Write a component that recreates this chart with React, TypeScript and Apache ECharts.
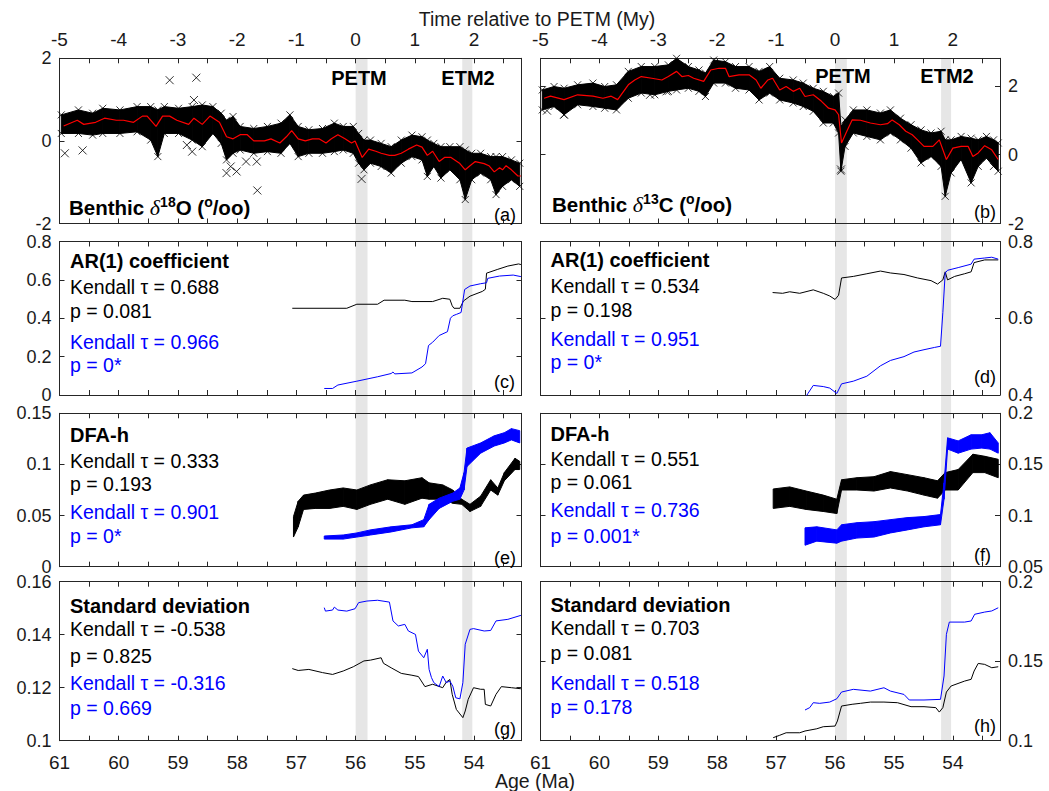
import React, { useEffect, useRef } from 'react';
import * as echarts from 'echarts';

const FONT = '"Liberation Sans", Arial, Helvetica, sans-serif';
const INK = '#1a1a1a';
const BLUE = '#0000ff';
const RED = '#ff0000';
const BAND = '#e6e6e6';

// ---------- tick labels ----------
const topTickLabels = ['-5', '-4', '-3', '-2', '-1', '0', '1', '2'];
const bottomTickLabels = ['61', '60', '59', '58', '57', '56', '55', '54'];
const aYTicks = ['-2', '0', '2'];
const bYTicks = ['-2', '0', '2'];
const cYTicks = ['0', '0.2', '0.4', '0.6', '0.8'];
const dYTicks = ['0.4', '0.6', '0.8'];
const eYTicks = ['0', '0.05', '0.1', '0.15'];
const fYTicks = ['0.05', '0.1', '0.15', '0.2'];
const gYTicks = ['0.1', '0.12', '0.14', '0.16'];
const hYTicks = ['0.1', '0.15', '0.2'];

// ---------- events (Ma) ----------
const PETM_AGE = 56;
const eventBands = [
  [56.0, 55.8],
  [54.2, 54.03],
];

// ---------- (a) benthic d18O ----------
const aEnvAge = [60.97, 60.68, 60.44, 60.27, 59.98, 59.69, 59.46, 59.34, 59.23, 58.99, 58.76, 58.59, 58.41, 58.27, 58.18, 58.07, 57.95, 57.72, 57.49, 57.26, 57.11, 56.97, 56.79, 56.56, 56.36, 56.21, 56.04, 55.95, 55.86, 55.75, 55.57, 55.40, 55.23, 55.05, 54.88, 54.79, 54.68, 54.56, 54.41, 54.24, 54.15, 54.04, 53.89, 53.72, 53.63, 53.52, 53.37, 53.23];
const aUpper = [0.63, 0.75, 0.67, 0.79, 0.75, 0.83, 0.83, 0.75, 0.83, 0.79, 0.83, 0.87, 0.83, 0.67, 0.5, 0.59, 0.35, 0.3, 0.35, 0.43, 0.63, 0.35, 0.27, 0.3, 0.43, 0.35, 0.35, 0.18, 0.02, 0.02, -0.06, -0.14, 0.02, 0.14, 0.1, 0.02, -0.06, -0.14, -0.14, -0.14, -0.22, -0.3, -0.3, -0.38, -0.38, -0.38, -0.46, -0.54];
const aLower = [0.18, 0.18, 0.14, 0.18, 0.18, 0.22, 0.02, -0.38, 0.18, 0.18, 0.02, -0.14, 0.18, -0.06, -0.46, -0.3, -0.22, -0.3, -0.26, -0.3, -0.06, -0.38, -0.3, -0.3, -0.26, -0.22, -0.3, -0.54, -0.7, -0.54, -0.62, -0.78, -0.54, -0.38, -0.46, -0.86, -0.62, -0.9, -0.7, -0.94, -1.42, -0.94, -0.78, -0.94, -1.3, -1.1, -0.94, -1.1];
const aMeanAge = [60.93, 60.70, 60.59, 60.39, 60.24, 60.04, 59.92, 59.75, 59.60, 59.52, 59.37, 59.26, 59.14, 59.02, 58.82, 58.73, 58.59, 58.46, 58.30, 58.18, 58.07, 57.95, 57.83, 57.72, 57.54, 57.43, 57.28, 57.17, 57.08, 56.97, 56.85, 56.73, 56.62, 56.50, 56.41, 56.30, 56.18, 56.07, 56.01, 55.89, 55.78, 55.66, 55.57, 55.43, 55.34, 55.23, 55.11, 54.97, 54.88, 54.79, 54.70, 54.59, 54.50, 54.39, 54.24, 54.15, 54.07, 53.98, 53.83, 53.75, 53.66, 53.57, 53.52, 53.46, 53.37, 53.26, 53.21];
const aMean = [0.36, 0.5, 0.4, 0.45, 0.55, 0.5, 0.5, 0.45, 0.6, 0.6, 0.35, 0.6, 0.6, 0.5, 0.4, 0.55, 0.4, 0.6, 0.45, 0.1, 0.05, 0.15, 0.15, 0.0, 0.0, 0.05, -0.05, 0.1, 0.25, 0.05, 0.0, 0.05, 0.05, -0.05, 0.05, 0.15, 0.05, -0.05, 0.0, -0.4, -0.2, -0.25, -0.3, -0.35, -0.35, -0.3, -0.2, -0.1, -0.15, -0.35, -0.25, -0.5, -0.4, -0.4, -0.55, -0.7, -0.6, -0.5, -0.55, -0.6, -0.75, -0.65, -0.7, -0.6, -0.7, -0.85, -0.85];
const aOutAge = [60.91, 60.61, 59.14, 58.69, 58.73, 58.85, 58.76, 58.18, 58.11, 58.01, 57.85, 57.67, 57.66, 55.90];
const aOutVal = [-0.30, -0.23, 1.47, 1.53, 0.99, -0.10, -0.26, -0.78, -0.62, -0.74, -0.50, -0.50, -1.20, -0.92];

// ---------- (b) benthic d13C ----------
const bEnvAge = [60.97, 60.77, 60.60, 60.37, 60.11, 59.91, 59.71, 59.51, 59.29, 59.06, 58.83, 58.69, 58.49, 58.31, 58.20, 58.06, 57.86, 57.69, 57.46, 57.29, 57.11, 56.94, 56.71, 56.54, 56.37, 56.20, 56.03, 55.94, 55.90, 55.83, 55.69, 55.46, 55.23, 55.06, 54.89, 54.71, 54.54, 54.37, 54.20, 54.13, 54.03, 53.86, 53.69, 53.57, 53.43, 53.31, 53.23];
const bUpper = [1.88, 1.98, 1.93, 2.03, 2.08, 1.98, 2.03, 2.42, 2.56, 2.56, 2.61, 2.8, 2.56, 2.46, 2.37, 2.75, 2.7, 2.56, 2.56, 2.42, 2.56, 2.22, 2.17, 2.08, 1.93, 1.84, 1.69, 1.79, 0.82, 1.01, 1.3, 1.3, 1.21, 1.3, 1.06, 0.87, 0.72, 0.63, 0.68, 0.43, 0.43, 0.53, 0.48, 0.43, 0.53, 0.43, 0.34];
const bLower = [1.3, 1.4, 1.16, 1.45, 1.4, 1.35, 1.3, 1.64, 1.79, 1.74, 1.84, 1.88, 1.93, 1.84, 1.69, 2.08, 2.08, 1.93, 1.88, 1.59, 1.79, 1.59, 1.5, 1.4, 1.26, 0.92, 0.92, 0.63, -0.48, 0.24, 0.63, 0.53, 0.43, 0.63, 0.43, 0.19, -0.24, -0.05, -0.34, -1.21, -0.53, -0.14, -0.82, -0.34, -0.1, -0.34, -0.48];
const bMeanAge = [60.94, 60.83, 60.60, 60.37, 60.11, 59.94, 59.80, 59.69, 59.51, 59.40, 59.29, 59.11, 58.94, 58.83, 58.69, 58.60, 58.49, 58.40, 58.23, 58.11, 57.97, 57.86, 57.80, 57.63, 57.46, 57.34, 57.26, 57.14, 57.06, 56.94, 56.83, 56.71, 56.60, 56.51, 56.37, 56.23, 56.11, 56.00, 55.94, 55.89, 55.80, 55.71, 55.57, 55.40, 55.23, 55.11, 55.03, 54.91, 54.80, 54.69, 54.60, 54.49, 54.34, 54.23, 54.11, 54.00, 53.86, 53.74, 53.66, 53.57, 53.46, 53.34, 53.23];
const bMean = [1.64, 1.7, 1.6, 1.74, 1.7, 1.64, 1.7, 1.6, 2.03, 2.17, 2.27, 2.22, 2.17, 2.27, 2.42, 2.27, 2.3, 2.22, 2.13, 2.46, 2.51, 2.51, 2.27, 2.32, 2.32, 2.17, 1.93, 2.17, 2.22, 1.88, 1.98, 1.84, 1.93, 1.69, 1.74, 1.55, 1.35, 1.3, 1.16, 0.34, 0.68, 1.01, 1.0, 0.92, 0.87, 0.9, 1.01, 0.87, 0.68, 0.58, 0.43, 0.24, 0.24, 0.43, -0.14, 0.19, 0.24, 0.24, -0.05, 0.05, 0.26, 0.14, -0.14];
const bOutAge = [60.89, 60.60, 59.14, 58.86, 55.90];
const bOutVal = [1.28, 1.16, 1.74, 1.84, -0.43];

// ---------- (c) AR(1) d18O ----------
const cBlackAge = [57.07, 56.15, 55.98, 55.63, 55.52, 55.17, 55.05, 54.70, 54.53, 54.41, 54.37, 54.34, 54.24, 54.18, 54.07, 53.86, 53.81, 53.79, 53.60, 53.43, 53.25, 53.21];
const cBlack = [0.452, 0.452, 0.473, 0.473, 0.494, 0.494, 0.487, 0.487, 0.504, 0.499, 0.465, 0.452, 0.452, 0.49, 0.515, 0.54, 0.551, 0.635, 0.655, 0.672, 0.683, 0.68];
const cBlueAge = [56.53, 56.39, 56.30, 55.98, 55.63, 55.40, 55.37, 55.34, 55.05, 54.88, 54.82, 54.77, 54.70, 54.59, 54.45, 54.40, 54.36, 54.30, 54.22, 54.16, 54.07, 53.89, 53.79, 53.77, 53.57, 53.34, 53.21];
const cBlue = [0.034, 0.034, 0.052, 0.072, 0.095, 0.112, 0.12, 0.11, 0.115, 0.146, 0.163, 0.258, 0.275, 0.31, 0.33, 0.40, 0.413, 0.42, 0.43, 0.55, 0.568, 0.58, 0.585, 0.608, 0.62, 0.625, 0.617];

// ---------- (d) AR(1) d13C ----------
const dBlackAge = [57.06, 56.89, 56.77, 56.60, 56.37, 56.20, 56.09, 56.00, 55.94, 55.89, 55.69, 55.46, 55.23, 55.06, 54.83, 54.60, 54.37, 54.26, 54.17, 54.13, 54.09, 53.97, 53.80, 53.69, 53.64, 53.46, 53.23];
const dBlack = [0.667, 0.665, 0.669, 0.665, 0.674, 0.665, 0.658, 0.649, 0.66, 0.705, 0.709, 0.716, 0.723, 0.718, 0.714, 0.705, 0.698, 0.689, 0.70, 0.721, 0.70, 0.709, 0.716, 0.721, 0.745, 0.752, 0.752];
const dBlueAge = [56.51, 56.46, 56.37, 56.20, 56.09, 55.97, 55.89, 55.69, 55.46, 55.23, 55.06, 54.83, 54.66, 54.49, 54.31, 54.21, 54.17, 54.13, 54.09, 53.91, 53.69, 53.64, 53.46, 53.34, 53.23];
const dBlue = [0.391, 0.404, 0.425, 0.422, 0.418, 0.404, 0.429, 0.436, 0.449, 0.476, 0.49, 0.5, 0.512, 0.518, 0.524, 0.527, 0.615, 0.718, 0.725, 0.732, 0.741, 0.754, 0.757, 0.759, 0.754];

// ---------- (e) DFA-h d18O (envelopes) ----------
const eBlackAge = [57.05, 56.97, 56.88, 56.68, 56.44, 56.21, 55.98, 55.75, 55.46, 55.17, 54.88, 54.76, 54.53, 54.36, 54.21, 54.07, 53.89, 53.72, 53.60, 53.49, 53.31, 53.23];
const eBlackUp = [0.049, 0.064, 0.070, 0.072, 0.075, 0.077, 0.075, 0.080, 0.085, 0.084, 0.087, 0.082, 0.080, 0.075, 0.066, 0.061, 0.069, 0.085, 0.077, 0.092, 0.106, 0.103];
const eBlackLo = [0.029, 0.039, 0.056, 0.057, 0.057, 0.059, 0.056, 0.061, 0.066, 0.061, 0.067, 0.066, 0.066, 0.062, 0.061, 0.054, 0.059, 0.075, 0.070, 0.084, 0.095, 0.095];
const eBlueAge = [56.53, 56.21, 55.98, 55.75, 55.40, 55.05, 54.85, 54.76, 54.59, 54.36, 54.24, 54.17, 54.12, 53.89, 53.66, 53.49, 53.37, 53.23];
const eBlueUp = [0.030, 0.031, 0.033, 0.036, 0.039, 0.041, 0.046, 0.061, 0.067, 0.072, 0.077, 0.092, 0.116, 0.121, 0.128, 0.131, 0.135, 0.133];
const eBlueLo = [0.027, 0.027, 0.029, 0.031, 0.034, 0.038, 0.039, 0.046, 0.057, 0.064, 0.066, 0.075, 0.098, 0.111, 0.118, 0.121, 0.124, 0.121];

// ---------- (f) DFA-h d13C (envelopes) ----------
const fBlackAge = [57.05, 56.77, 56.49, 56.20, 55.97, 55.89, 55.63, 55.34, 55.06, 54.77, 54.49, 54.26, 54.13, 53.91, 53.66, 53.46, 53.23];
const fBlackUp = [0.126, 0.128, 0.124, 0.120, 0.116, 0.135, 0.137, 0.138, 0.143, 0.140, 0.137, 0.134, 0.142, 0.145, 0.160, 0.158, 0.155];
const fBlackLo = [0.107, 0.109, 0.106, 0.104, 0.102, 0.125, 0.125, 0.124, 0.127, 0.124, 0.120, 0.117, 0.125, 0.125, 0.142, 0.142, 0.137];
const fBlueAge = [56.51, 56.31, 55.97, 55.89, 55.63, 55.34, 55.06, 54.77, 54.49, 54.21, 54.15, 54.09, 53.91, 53.69, 53.51, 53.37, 53.23];
const fBlueUp = [0.088, 0.089, 0.086, 0.091, 0.093, 0.094, 0.096, 0.098, 0.099, 0.101, 0.132, 0.176, 0.173, 0.179, 0.179, 0.181, 0.171];
const fBlueLo = [0.071, 0.075, 0.073, 0.075, 0.078, 0.079, 0.083, 0.086, 0.089, 0.091, 0.116, 0.165, 0.161, 0.165, 0.166, 0.165, 0.161];

// ---------- (g) standard deviation d18O ----------
const gBlackAge = [57.07, 56.97, 56.79, 56.56, 56.39, 56.21, 56.04, 55.86, 55.75, 55.57, 55.53, 55.40, 55.23, 55.05, 54.94, 54.83, 54.70, 54.53, 54.47, 54.41, 54.37, 54.30, 54.19, 54.15, 54.10, 54.01, 53.89, 53.83, 53.81, 53.72, 53.63, 53.54, 53.37, 53.21];
const gBlack = [0.1272, 0.1265, 0.1269, 0.1257, 0.1250, 0.1263, 0.1279, 0.1301, 0.1304, 0.1313, 0.1292, 0.1275, 0.1254, 0.1247, 0.1242, 0.1204, 0.1213, 0.1200, 0.1221, 0.1231, 0.1175, 0.1118, 0.1087, 0.1112, 0.1156, 0.1200, 0.1194, 0.1194, 0.1137, 0.1131, 0.1175, 0.1204, 0.1200, 0.1196];
const gBlueAge = [56.53, 56.51, 56.39, 56.36, 56.30, 56.15, 56.01, 55.95, 55.81, 55.63, 55.43, 55.37, 55.28, 55.17, 55.11, 54.99, 54.94, 54.85, 54.79, 54.76, 54.72, 54.68, 54.59, 54.53, 54.47, 54.41, 54.36, 54.31, 54.24, 54.19, 54.15, 54.07, 54.01, 53.83, 53.72, 53.63, 53.43, 53.21];
const gBlue = [0.1502, 0.1489, 0.1493, 0.1504, 0.1493, 0.1489, 0.1498, 0.1521, 0.1527, 0.1530, 0.1523, 0.1452, 0.1433, 0.1439, 0.1414, 0.1401, 0.1338, 0.1313, 0.1345, 0.1269, 0.1238, 0.1219, 0.1204, 0.1244, 0.1219, 0.1225, 0.1206, 0.1162, 0.1158, 0.1219, 0.1364, 0.1420, 0.1423, 0.1414, 0.1416, 0.1452, 0.1458, 0.1473];

// ---------- (h) standard deviation d13C ----------
const hBlackAge = [57.05, 56.94, 56.83, 56.60, 56.51, 56.31, 56.20, 56.00, 55.96, 55.89, 55.71, 55.57, 55.40, 55.17, 54.94, 54.71, 54.49, 54.29, 54.23, 54.17, 54.11, 54.03, 53.80, 53.69, 53.64, 53.57, 53.46, 53.34, 53.23];
const hBlack = [0.1019, 0.1034, 0.1050, 0.1050, 0.1061, 0.1075, 0.1088, 0.1092, 0.1124, 0.1218, 0.1229, 0.1235, 0.1243, 0.1243, 0.1239, 0.1214, 0.1214, 0.1208, 0.1180, 0.1208, 0.1306, 0.1344, 0.1375, 0.1386, 0.1438, 0.1486, 0.1480, 0.1459, 0.1465];
const hBlueAge = [56.51, 56.43, 56.37, 56.26, 56.09, 55.97, 55.89, 55.69, 55.40, 55.17, 55.06, 54.83, 54.74, 54.49, 54.21, 54.15, 54.11, 54.06, 53.80, 53.69, 53.63, 53.46, 53.34, 53.23];
const hBlue = [0.1193, 0.1208, 0.1239, 0.1235, 0.1243, 0.1264, 0.1306, 0.1323, 0.1312, 0.1333, 0.1312, 0.1291, 0.1256, 0.1256, 0.1260, 0.1407, 0.1669, 0.1746, 0.1746, 0.1753, 0.1795, 0.1809, 0.1816, 0.1836];

// ---------- annotations ----------
const statTitles = ['AR(1) coefficient', 'AR(1) coefficient', 'DFA-h', 'DFA-h', 'Standard deviation', 'Standard deviation'];
const blackTau = ['0.688', '0.534', '0.333', '0.551', '-0.538', '0.703'];
const blackP = ['0.081', '0.198', '0.193', '0.061', '0.825', '0.081'];
const blueTau = ['0.966', '0.951', '0.901', '0.736', '-0.316', '0.518'];
const blueP = ['0*', '0*', '0*', '0.001*', '0.669', '0.178'];
const panelLetters = ['(a)', '(b)', '(c)', '(d)', '(e)', '(f)', '(g)', '(h)'];

// ---------- layout ----------
const COLS = [
  { left: 59.5, width: 462 },
  { left: 540.5, width: 459.5 },
];
const ROWS = [
  { top: 58.3, height: 165.2 },
  { top: 241.5, height: 153.5 },
  { top: 413.3, height: 153.4 },
  { top: 581.7, height: 159 },
];
const Y_SCALES = [
  [-2, 2, 2],
  [-2, 2.8, 2],
  [0, 0.8, 0.2],
  [0.4, 0.8, 0.2],
  [0, 0.15, 0.05],
  [0.05, 0.2, 0.05],
  [0.1, 0.16, 0.02],
  [0.1, 0.2, 0.05],
];
const Y_LABELS = [aYTicks, bYTicks, cYTicks, dYTicks, eYTicks, fYTicks, gYTicks, hYTicks];
const TEXT_YS = [
  [261, 287, 311, 342, 365],
  [260, 286, 309.5, 339, 362],
  [435, 460.5, 484, 512, 536],
  [434, 459, 482, 510, 535.5],
  [605.5, 628.5, 656, 683, 707.5],
  [604.7, 628, 653, 683, 706.6],
];
const LETTER_YS = [215, 212, 382, 377, 558, 555, 729, 726];

const toT = (age: number) => PETM_AGE - age;
const fmtNum = (v: number) => String(parseFloat(v.toFixed(4)));

function bandSeries(p: number, ages: number[], lo: number[], up: number[], color: string, z: number) {
  const data = ages.map((a, i) => [toT(a), lo[i], up[i]]);
  return {
    type: 'custom',
    xAxisIndex: 2 * p,
    yAxisIndex: 2 * p,
    clip: true,
    silent: true,
    z,
    data,
    encode: { x: 0, y: [1, 2] },
    renderItem: (params: any, api: any) => {
      const i = params.dataIndex;
      if (i >= data.length - 1) return null;
      const q0 = api.coord([data[i][0], data[i][2]]);
      const q1 = api.coord([data[i + 1][0], data[i + 1][2]]);
      const q2 = api.coord([data[i + 1][0], data[i + 1][1]]);
      const q3 = api.coord([data[i][0], data[i][1]]);
      return {
        type: 'polygon',
        shape: { points: [q0, q1, q2, q3] },
        style: { fill: color, stroke: color, lineWidth: 1 },
      };
    },
  };
}

function lineSeries(p: number, ages: number[], vals: number[], color: string, width: number, z: number) {
  return {
    type: 'line',
    xAxisIndex: 2 * p,
    yAxisIndex: 2 * p,
    data: ages.map((a, i) => [toT(a), vals[i]]),
    showSymbol: false,
    symbol: 'none',
    lineStyle: { color, width },
    itemStyle: { color },
    silent: true,
    clip: true,
    z,
  };
}

const CROSS = 'path://M0,0L10,10M10,0L0,10';
function crossSeries(p: number, pts: number[][], size: number) {
  return {
    type: 'scatter',
    xAxisIndex: 2 * p,
    yAxisIndex: 2 * p,
    data: pts,
    symbol: CROSS,
    symbolSize: size,
    itemStyle: { color: 'rgba(0,0,0,0)', borderColor: '#000', borderWidth: 1 },
    silent: true,
    clip: true,
    z: 3,
  };
}

function envelopeCrosses(ages: number[], lo: number[], up: number[]) {
  const pts: number[][] = [];
  ages.forEach((a, i) => {
    pts.push([toT(a), up[i]]);
    pts.push([toT(a), lo[i]]);
  });
  return pts;
}

function buildOption() {
  const grid: any[] = [];
  const xAxis: any[] = [];
  const yAxis: any[] = [];
  const axisLineStyle = { color: '#262626', width: 1 };
  const labelBase = { fontSize: 18, color: INK, fontFamily: FONT };

  for (let p = 0; p < 8; p++) {
    const col = p % 2;
    const row = Math.floor(p / 2);
    grid.push({ left: COLS[col].left, width: COLS[col].width, top: ROWS[row].top, height: ROWS[row].height });
    xAxis.push({
      gridIndex: p,
      type: 'value',
      min: -5,
      max: 2.8,
      interval: 0.5,
      position: 'bottom',
      axisLine: { show: true, onZero: false, lineStyle: axisLineStyle },
      axisTick: { show: true, inside: true, length: 5, lineStyle: axisLineStyle },
      axisLabel: {
        ...labelBase,
        fontSize: 19,
        show: row === 3,
        margin: 12,
        formatter: (v: number) => {
          const s = fmtNum(PETM_AGE - v);
          return bottomTickLabels.includes(s) ? s : '';
        },
      },
      splitLine: { show: false },
    });
    xAxis.push({
      gridIndex: p,
      type: 'value',
      min: -5,
      max: 2.8,
      interval: 0.5,
      position: 'top',
      axisLine: { show: true, onZero: false, lineStyle: axisLineStyle },
      axisTick: { show: true, inside: true, length: 5, lineStyle: axisLineStyle },
      axisLabel: {
        ...labelBase,
        fontSize: 19,
        show: row === 0,
        margin: 9,
        formatter: (v: number) => {
          const s = fmtNum(v);
          return topTickLabels.includes(s) ? s : '';
        },
      },
      splitLine: { show: false },
    });
    const [ymin, ymax, yint] = Y_SCALES[p];
    const labels = Y_LABELS[p];
    const yfmt = (v: number) => {
      const s = fmtNum(v);
      return labels.includes(s) ? s : '';
    };
    yAxis.push({
      gridIndex: p,
      type: 'value',
      min: ymin,
      max: ymax,
      interval: yint,
      position: 'left',
      axisLine: { show: true, onZero: false, lineStyle: axisLineStyle },
      axisTick: { show: true, inside: true, length: 5, lineStyle: axisLineStyle },
      axisLabel: { ...labelBase, show: col === 0, margin: 8, formatter: yfmt },
      splitLine: { show: false },
    });
    yAxis.push({
      gridIndex: p,
      type: 'value',
      min: ymin,
      max: ymax,
      interval: yint,
      position: 'right',
      axisLine: { show: true, onZero: false, lineStyle: axisLineStyle },
      axisTick: { show: true, inside: true, length: 5, lineStyle: axisLineStyle },
      axisLabel: { ...labelBase, show: col === 1, margin: 8, formatter: yfmt },
      splitLine: { show: false },
    });
  }
  // background grids for the event bands, one per column
  for (let c = 0; c < 2; c++) {
    grid.push({
      left: COLS[c].left,
      width: COLS[c].width,
      top: ROWS[0].top,
      height: ROWS[3].top + ROWS[3].height - ROWS[0].top,
    });
    xAxis.push({ gridIndex: 8 + c, type: 'value', min: -5, max: 2.8, show: false });
    yAxis.push({ gridIndex: 8 + c, type: 'value', min: 0, max: 1, show: false });
  }

  const series: any[] = [];
  for (let c = 0; c < 2; c++) {
    series.push({
      type: 'custom',
      xAxisIndex: 16 + c,
      yAxisIndex: 16 + c,
      silent: true,
      z: -1,
      data: eventBands.map((b) => [toT(b[0]), toT(b[1])]),
      renderItem: (params: any, api: any) => {
        const q0 = api.coord([api.value(0), 1]);
        const q1 = api.coord([api.value(1), 0]);
        return {
          type: 'rect',
          shape: { x: q0[0], y: q0[1], width: q1[0] - q0[0], height: q1[1] - q0[1] },
          style: { fill: BAND },
        };
      },
    });
  }

  // (a)
  series.push(bandSeries(0, aEnvAge, aLower, aUpper, '#000', 2));
  series.push(crossSeries(0, envelopeCrosses(aEnvAge, aLower, aUpper), 7));
  series.push(crossSeries(0, aOutAge.map((a, i) => [toT(a), aOutVal[i]]), 8));
  series.push(lineSeries(0, aMeanAge, aMean, RED, 1.2, 5));
  // (b)
  series.push(bandSeries(1, bEnvAge, bLower, bUpper, '#000', 2));
  series.push(crossSeries(1, envelopeCrosses(bEnvAge, bLower, bUpper), 7));
  series.push(crossSeries(1, bOutAge.map((a, i) => [toT(a), bOutVal[i]]), 8));
  series.push(lineSeries(1, bMeanAge, bMean, RED, 1.2, 5));
  // (c), (d)
  series.push(lineSeries(2, cBlackAge, cBlack, '#000', 1, 3));
  series.push(lineSeries(2, cBlueAge, cBlue, BLUE, 1, 4));
  series.push(lineSeries(3, dBlackAge, dBlack, '#000', 1, 3));
  series.push(lineSeries(3, dBlueAge, dBlue, BLUE, 1, 4));
  // (e), (f)
  series.push(bandSeries(4, eBlackAge, eBlackLo, eBlackUp, '#000', 3));
  series.push(bandSeries(4, eBlueAge, eBlueLo, eBlueUp, BLUE, 4));
  series.push(bandSeries(5, fBlackAge, fBlackLo, fBlackUp, '#000', 3));
  series.push(bandSeries(5, fBlueAge, fBlueLo, fBlueUp, BLUE, 4));
  // (g), (h)
  series.push(lineSeries(6, gBlackAge, gBlack, '#000', 1, 3));
  series.push(lineSeries(6, gBlueAge, gBlue, BLUE, 1, 4));
  series.push(lineSeries(7, hBlackAge, hBlack, '#000', 1, 3));
  series.push(lineSeries(7, hBlueAge, hBlue, BLUE, 1, 4));

  // ---------- texts ----------
  const graphic: any[] = [];
  const txt = (x: number, y: number, text: string, opts: any = {}) => {
    const align = opts.align || 'left';
    graphic.push({
      type: 'text',
      x,
      y,
      z: 10,
      style: {
        text,
        fill: opts.color || '#000',
        font: `${opts.bold ? 'bold ' : ''}${opts.size || 19.5}px ${FONT}`,
        textAlign: align,
        align,
        textVerticalAlign: 'middle',
        verticalAlign: 'middle',
      },
    });
  };
  txt(537, 19, 'Time relative to PETM (My)', { align: 'center', color: INK, size: 19.5 });
  txt(535, 781, 'Age (Ma)', { align: 'center', color: INK, size: 19.5 });

  // event labels
  txt(359, 78, 'PETM', { align: 'center', bold: true, size: 20 });
  txt(468, 78, 'ETM2', { align: 'center', bold: true, size: 20 });
  txt(843, 76, 'PETM', { align: 'center', bold: true, size: 20 });
  txt(947, 76, 'ETM2', { align: 'center', bold: true, size: 20 });

  // isotope labels with superscripts
  const rich = {
    b: { fontFamily: FONT, fontWeight: 'bold', fontSize: 20.5, lineHeight: 24, fill: '#000', color: '#000' },
    d: { fontFamily: '"Liberation Serif", "DejaVu Serif", serif', fontStyle: 'italic', fontSize: 22, lineHeight: 24, fill: '#000', color: '#000' },
    s: { fontFamily: FONT, fontWeight: 'bold', fontSize: 14, lineHeight: 14, verticalAlign: 'top', fill: '#000', color: '#000' },
  };
  const isoLabel = (x: number, y: number, num: string, el: string) => {
    graphic.push({
      type: 'text',
      x,
      y,
      z: 10,
      style: {
        text: `{b|Benthic }{d|δ}{s|${num}}{b|${el} (}{s|o}{b|/oo)}`,
        rich,
        textAlign: 'left',
        align: 'left',
        textVerticalAlign: 'middle',
        verticalAlign: 'middle',
      },
    });
  };
  isoLabel(69, 207, '18', 'O');
  isoLabel(552, 204, '13', 'C');

  // statistics
  for (let k = 0; k < 6; k++) {
    const col = k % 2;
    const x = col === 0 ? 70 : 550.5;
    const ys = TEXT_YS[k];
    txt(x, ys[0], statTitles[k], { bold: true, size: 20 });
    txt(x, ys[1], `Kendall τ = ${blackTau[k]}`);
    txt(x, ys[2], `p = ${blackP[k]}`);
    txt(x, ys[3], `Kendall τ = ${blueTau[k]}`, { color: BLUE });
    txt(x, ys[4], `p = ${blueP[k]}`, { color: BLUE });
  }
  // panel letters
  for (let p = 0; p < 8; p++) {
    const col = p % 2;
    txt(col === 0 ? 494 : 974, LETTER_YS[p], panelLetters[p], { size: 18 });
  }

  return {
    animation: false,
    backgroundColor: '#ffffff',
    grid,
    xAxis,
    yAxis,
    series,
    graphic,
  };
}

export default function App() {
  const ref = useRef<HTMLDivElement>(null);
  useEffect(() => {
    if (!ref.current) return;
    const chart = echarts.init(ref.current, null, { renderer: 'svg' });
    chart.setOption(buildOption() as any);
    return () => chart.dispose();
  }, []);
  return (
    <div
      ref={ref}
      style={{ position: 'fixed', left: 0, top: 0, width: 1049, height: 791, background: '#fff' }}
    />
  );
}
